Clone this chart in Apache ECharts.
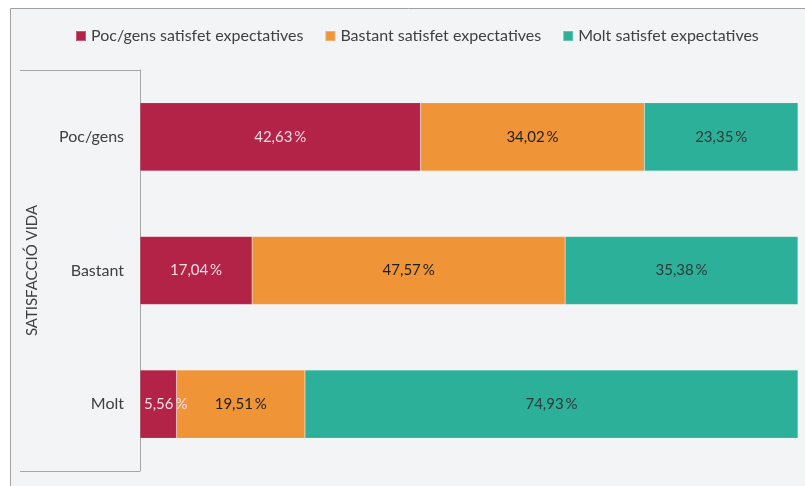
<!DOCTYPE html>
<html>
<head>
<meta charset="utf-8">
<script src="https://cdn.jsdelivr.net/npm/echarts@6/dist/echarts.min.js"></script>
<style>
  html, body { margin: 0; padding: 0; background: #fff; }
  #chart { width: 805px; height: 486px; }
</style>
</head>
<body>
<div id="chart"></div>
<script>
const categories = ['Poc/gens', 'Bastant', 'Molt']
const seriesNames = ['Poc/gens satisfet expectatives', 'Bastant satisfet expectatives', 'Molt satisfet expectatives']
const pocGens = [42.63, 17.04, 5.56]
const bastant = [34.02, 47.57, 19.51]
const molt = [23.35, 35.38, 74.93]

const colors = ['#B22347', '#F09537', '#2DB099']
const labelColors = ['#F2DDE3', '#1E1E1E', '#2B3B3A']
const font = 'Lato, "Liberation Sans", sans-serif'

const chart = echarts.init(document.getElementById('chart'))

const gridLeft = 140
const gridTop = 70
const gridBottom = 15
const lineColor = '#A6A6A6'

const fmt = v => v.toFixed(2).replace('.', ',') + '\u2009%'

// 太窄的块，标签靠左放
const makeSeries = (name, data, i) => ({
  name: name,
  type: 'bar',
  stack: 'total',
  data: data.map(v => (v < 8 ? { value: v, label: { position: 'insideLeft', distance: 4 } } : v)),
  barCategoryGap: '49%',
  itemStyle: { color: colors[i], borderColor: 'rgba(255,255,255,0.25)', borderWidth: 0.5 },
  label: {
    show: true,
    position: 'inside',
    color: labelColors[i],
    fontFamily: font,
    fontSize: 15,
    formatter: p => fmt(p.value)
  }
})

chart.setOption({
  animation: false,
  textStyle: { fontFamily: font },
  color: colors,
  graphic: [
    {
      type: 'rect',
      z: -10,
      silent: true,
      shape: { x: 10.5, y: 8.5, width: 820, height: 500 },
      style: { fill: '#F3F4F6', stroke: '#A0A0A0', lineWidth: 1 }
    },
    {
      type: 'line',
      silent: true,
      shape: { x1: 20, y1: gridTop + 0.5, x2: gridLeft, y2: gridTop + 0.5 },
      style: { stroke: lineColor, lineWidth: 1 }
    },
    {
      type: 'line',
      silent: true,
      shape: { x1: 20, y1: 486 - gridBottom + 0.5, x2: gridLeft, y2: 486 - gridBottom + 0.5 },
      style: { stroke: lineColor, lineWidth: 1 }
    }
  ],
  legend: {
    top: 23,
    left: 70,
    itemWidth: 10,
    itemHeight: 10,
    itemGap: 21,
    icon: 'rect',
    textStyle: { fontSize: 16, color: '#404040', fontFamily: font },
    data: seriesNames
  },
  grid: { left: gridLeft, right: 7, top: gridTop, bottom: gridBottom },
  xAxis: {
    type: 'value',
    min: 0,
    max: 100,
    show: false
  },
  yAxis: {
    type: 'category',
    inverse: true,
    data: categories,
    name: 'SATISFACCIÓ VIDA',
    nameLocation: 'middle',
    nameRotate: 90,
    nameGap: 100,
    nameTextStyle: { fontSize: 15, color: '#404040', fontFamily: font },
    axisLine: { show: true, lineStyle: { color: lineColor, width: 1 } },
    axisTick: { show: false },
    axisLabel: { fontSize: 16, color: '#404040', margin: 16, fontFamily: font }
  },
  series: [
    makeSeries(seriesNames[0], pocGens, 0),
    makeSeries(seriesNames[1], bastant, 1),
    makeSeries(seriesNames[2], molt, 2)
  ]
})
</script>
</body>
</html>
